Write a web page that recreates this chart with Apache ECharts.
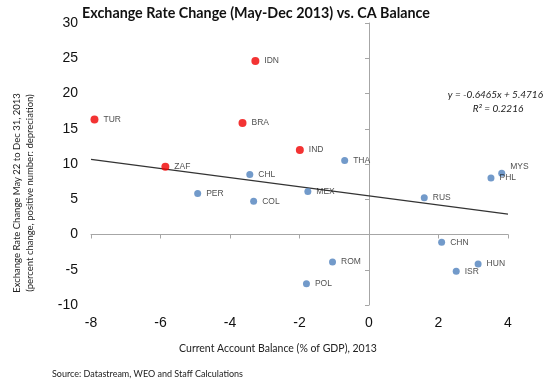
<!DOCTYPE html>
<html>
<head>
<meta charset="utf-8">
<script src="https://cdn.jsdelivr.net/npm/echarts@6/dist/echarts.min.js"></script>
<style>html,body{margin:0;padding:0;background:#fff}#c{width:554px;height:392px}</style>
</head>
<body>
<div id="c"></div>
<script>
// Red group (notable depreciation)
const redNames = ['TUR', 'IDN', 'BRA', 'IND', 'ZAF'];
const redX = [-7.9, -3.27, -3.64, -1.99, -5.86];
const redY = [16.3, 24.6, 15.8, 12.0, 9.6];
// Blue group
const blueNames = ['CHL', 'PER', 'COL', 'MEX', 'THA', 'RUS', 'PHL', 'MYS', 'CHN', 'ROM', 'POL', 'ISR', 'HUN'];
const blueX = [-3.43, -4.93, -3.32, -1.76, -0.70, 1.59, 3.51, 3.82, 2.09, -1.05, -1.80, 2.51, 3.14];
const blueY = [8.5, 5.8, 4.7, 6.1, 10.5, 5.2, 8.0, 8.7, -1.1, -3.9, -7.0, -5.2, -4.2];
// Axis ticks
const xTicks = [-8, -6, -4, -2, 0, 2, 4];
const yTicks = [-10, -5, 0, 5, 10, 15, 20, 25, 30];
// Trend line (from chart annotation)
const slope = -0.6465;
const intercept = 5.4716;
const trendX = [-8, 4];

const chart = echarts.init(document.getElementById('c'));
const lblFont = 'Liberation Sans';
const calFont = 'Lato';

function pts(xs, ys, names) {
  return xs.map((x, i) => ({ value: [x, ys[i]], name: names[i] }));
}
const blueData = pts(blueX, blueY, blueNames).map(d => {
  if (d.name === 'MYS') d.label = { offset: [0, -7] };
  return d;
});

const xMin = xTicks[0], xMax = xTicks[xTicks.length - 1];
const yMin = yTicks[0], yMax = yTicks[yTicks.length - 1];
const ptLabel = { show: true, position: 'right', distance: 5, formatter: '{b}', fontFamily: lblFont, fontSize: 8.5, color: '#222' };

chart.setOption({
  animation: false,
  backgroundColor: '#fff',
  grid: { left: 91, right: 46, top: 23, bottom: 87 },
  xAxis: [
    { type: 'value', min: xMin, max: xMax, interval: 2, position: 'bottom',
      axisLine: { show: false, onZero: false }, axisTick: { show: false }, splitLine: { show: false },
      axisLabel: { fontFamily: lblFont, fontSize: 14, color: '#111', margin: 11 } },
    { type: 'value', min: xMin, max: xMax, interval: 2, position: 'bottom',
      axisLine: { show: true, onZero: true, lineStyle: { color: '#a6a6a6', width: 1 } },
      axisTick: { show: true, length: 4, lineStyle: { color: '#a6a6a6' } },
      axisLabel: { show: false }, splitLine: { show: false } }
  ],
  yAxis: [
    { type: 'value', min: yMin, max: yMax, interval: 5, position: 'left',
      axisLine: { show: false, onZero: false }, axisTick: { show: false }, splitLine: { show: false },
      axisLabel: { fontFamily: lblFont, fontSize: 14, color: '#111', margin: 13 } },
    { type: 'value', min: yMin, max: yMax, interval: 5, position: 'left',
      axisLine: { show: true, onZero: true, lineStyle: { color: '#a6a6a6', width: 1 } },
      axisTick: { show: true, length: 4, lineStyle: { color: '#a6a6a6' } },
      axisLabel: { show: false }, splitLine: { show: false } }
  ],
  series: [
    { type: 'line', xAxisIndex: 0, yAxisIndex: 0, showSymbol: false, symbol: 'none',
      data: trendX.map(x => [x, slope * x + intercept]),
      lineStyle: { color: '#333', width: 1.2 }, z: 1 },
    { type: 'scatter', xAxisIndex: 0, yAxisIndex: 0, symbolSize: 8,
      itemStyle: { color: '#f00000' }, data: pts(redX, redY, redNames),
      label: ptLabel, z: 3 },
    { type: 'scatter', xAxisIndex: 0, yAxisIndex: 0, symbolSize: 7,
      itemStyle: { color: '#4f81bd' }, data: blueData,
      label: ptLabel, z: 3 }
  ],
  graphic: [
    { type: 'text', x: 256, y: 13,
      style: { text: 'Exchange Rate Change (May-Dec 2013) vs. CA Balance', fontFamily: calFont, fontWeight: 'bold', fontSize: 14.3, fill: '#111', align: 'center', verticalAlign: 'middle' } },
    { type: 'text', x: 543, y: 95,
      style: { text: 'y = -0.6465x + 5.4716', fontFamily: calFont, fontStyle: 'italic', fontSize: 10, fill: '#222', align: 'right', verticalAlign: 'middle' } },
    { type: 'text', x: 498, y: 109,
      style: { text: 'R² = 0.2216', fontFamily: calFont, fontStyle: 'italic', fontSize: 10, fill: '#222', align: 'center', verticalAlign: 'middle' } },
    { type: 'text', x: 17, y: 193, rotation: Math.PI / 2,
      style: { text: 'Exchange Rate Change May 22 to Dec 31, 2013', fontFamily: calFont, fontSize: 9.5, fill: '#222', align: 'center', verticalAlign: 'middle' } },
    { type: 'text', x: 30, y: 193, rotation: Math.PI / 2,
      style: { text: '(percent change, positive number: depreciation)', fontFamily: calFont, fontSize: 9.5, fill: '#222', align: 'center', verticalAlign: 'middle' } },
    { type: 'text', x: 278, y: 349,
      style: { text: 'Current Account Balance (% of GDP), 2013', fontFamily: calFont, fontSize: 10.5, fill: '#222', align: 'center', verticalAlign: 'middle' } },
    { type: 'text', x: 52, y: 374,
      style: { text: 'Source: Datastream, WEO and Staff Calculations', fontFamily: calFont, fontSize: 9, fill: '#222', align: 'left', verticalAlign: 'middle' } }
  ]
});
</script>
</body>
</html>
